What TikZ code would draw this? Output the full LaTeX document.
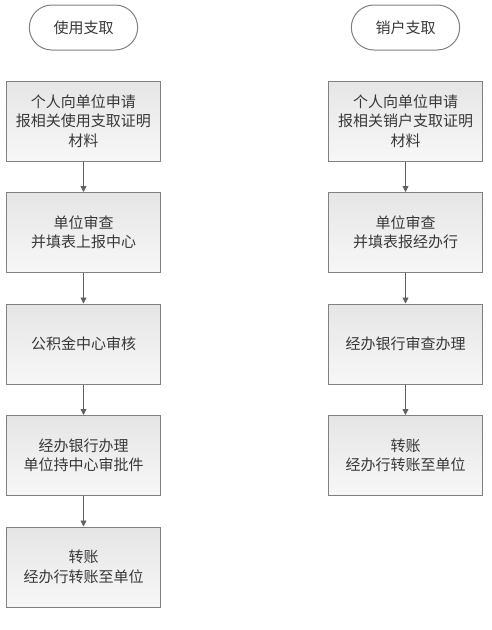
\documentclass[tikz,border=0pt]{standalone}
\usepackage{fontspec}
\newfontfamily\cjk{Noto Sans CJK SC}
\usetikzlibrary{positioning, arrows.meta, shapes.misc}

\begin{document}
\begin{tikzpicture}[x=1pt, y=1pt,
        font=\cjk\fontsize{15}{19.5}\selectfont, text=black!78,
        stepbox/.style={draw=black!50, line width=1pt, top color=black!10, bottom color=black!3,
            minimum width=154pt, minimum height=80pt, align=center, inner sep=1pt},
        endbox/.style={draw=black!50, line width=1pt, fill=white, rounded rectangle,
            minimum width=115pt, minimum height=45pt},
        link/.style={draw=black!62, line width=0.8pt, -{Triangle[length=6pt, width=6pt]}},
        node distance=30.5pt]
        \useasboundingbox (0,0) rectangle (492,-630);
        % left column
        \node[endbox] (use) at (83.5,-27.5) {使用支取};
        \node[stepbox, below=30pt of use] (u1) {个人向单位申请\\报相关使用支取证明\\材料};
        \node[stepbox, below=of u1] (u2) {单位审查\\并填表上报中心};
        \node[stepbox, below=of u2] (u3) {公积金中心审核};
        \node[stepbox, below=of u3] (u4) {经办银行办理\\单位持中心审批件};
        \node[stepbox, below=of u4] (u5) {转账\\经办行转账至单位};
        % right column
        \node[endbox] (close) at (405.5,-27.5) {销户支取};
        \node[stepbox, below=30pt of close] (c1) {个人向单位申请\\报相关销户支取证明\\材料};
        \node[stepbox, below=of c1] (c2) {单位审查\\并填表报经办行};
        \node[stepbox, below=of c2] (c3) {经办银行审查办理};
        \node[stepbox, below=of c3] (c4) {转账\\经办行转账至单位};
        \foreach \a/\b in {u1/u2, u2/u3, u3/u4, u4/u5, c1/c2, c2/c3, c3/c4}
            \draw[link] (\a) -- (\b);
\end{tikzpicture}
\end{document}
